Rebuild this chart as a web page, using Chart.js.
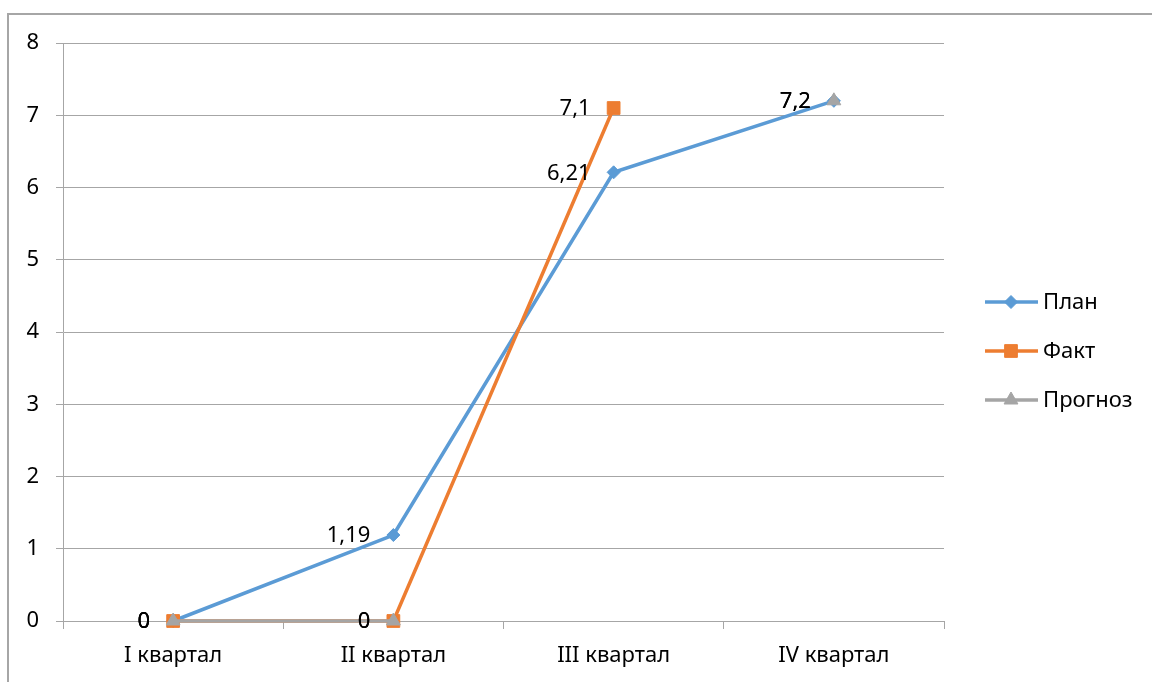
<!DOCTYPE html>
<html>
<head>
<meta charset="utf-8">
<script src="https://cdn.jsdelivr.net/npm/chart.js@4.4.1/dist/chart.umd.min.js"></script>
<style>
html,body{margin:0;padding:0;background:#fff;}
#wrap{position:relative;width:1152px;height:682px;}
</style>
</head>
<body>
<div id="wrap"><canvas id="c" width="1152" height="682"></canvas></div>
<script>
const categories = ['I квартал', 'II квартал', 'III квартал', 'IV квартал'];
const planValues = [0, 1.19, 6.21, 7.2];
const faktValues = [0, 0, 7.1, null];
const prognozValues = [0, 0, null, 7.2];
const seriesNames = ['План', 'Факт', 'Прогноз'];
const yTicks = [0, 1, 2, 3, 4, 5, 6, 7, 8];

const FONT = '"Noto Sans", "DejaVu Sans", sans-serif';
const FSIZE = 22;
const colors = ['#5B9BD5', '#ED7D31', '#A5A5A5'];
const styles = ['rectRot', 'rect', 'triangle'];
const radii = [6.5, 9, 8];

function fmt(v){ return String(v).replace('.', ','); }

const frame = {
  id: 'frame',
  beforeDraw(chart){
    const ctx = chart.ctx;
    ctx.save();
    ctx.fillStyle = '#fff';
    ctx.fillRect(0,0,chart.width,chart.height);
    ctx.strokeStyle = '#A6A6A6';
    ctx.lineWidth = 2;
    ctx.beginPath();
    ctx.moveTo(8, chart.height);
    ctx.lineTo(8, 14);
    ctx.lineTo(chart.width, 14);
    ctx.stroke();
    ctx.restore();
  }
};

const dataLabels = {
  id: 'dataLabels',
  afterDatasetsDraw(chart){
    const ctx = chart.ctx;
    ctx.save();
    ctx.font = FSIZE + 'px ' + FONT;
    ctx.fillStyle = '#000';
    ctx.textAlign = 'right';
    ctx.textBaseline = 'middle';
    chart.data.datasets.forEach((ds, i) => {
      const meta = chart.getDatasetMeta(i);
      meta.data.forEach((pt, j) => {
        const v = ds.data[j];
        if (v === null || v === undefined) return;
        ctx.fillText(fmt(v), pt.x - 23, pt.y + 1);
      });
    });
    ctx.restore();
  }
};

const legendPlugin = {
  id: 'customLegend',
  afterDraw(chart){
    const ctx = chart.ctx;
    ctx.save();
    const ys = [302, 351, 400];
    seriesNames.forEach((name, i) => {
      const y = ys[i];
      ctx.strokeStyle = colors[i];
      ctx.lineWidth = 3.5;
      ctx.beginPath();
      ctx.moveTo(985, y);
      ctx.lineTo(1038, y);
      ctx.stroke();
      ctx.fillStyle = colors[i];
      ctx.strokeStyle = colors[i];
      ctx.lineWidth = 1;
      Chart.helpers.drawPoint(ctx, {pointStyle: styles[i], radius: radii[i], rotation: 0, borderWidth: 1}, 1011, y);
      ctx.fillStyle = '#000';
      ctx.font = FSIZE + 'px ' + FONT;
      ctx.textAlign = 'left';
      ctx.textBaseline = 'middle';
      ctx.fillText(name, 1043, y + 1);
    });
    ctx.restore();
  }
};

const allValues = [planValues, faktValues, prognozValues];
const datasets = seriesNames.map((name, i) => ({
  label: name,
  data: allValues[i],
  borderColor: colors[i],
  backgroundColor: colors[i],
  borderWidth: 3.5,
  pointStyle: styles[i],
  pointRadius: radii[i],
  pointHoverRadius: radii[i],
  pointBorderWidth: 1,
  spanGaps: false,
  tension: 0,
  clip: false,
  order: 2 - i
}));

new Chart(document.getElementById('c'), {
  type: 'line',
  data: { labels: categories, datasets },
  options: {
    responsive: false,
    animation: false,
    events: [],
    layout: { padding: { top: 43, right: 208, bottom: 0, left: 0 } },
    plugins: { legend: { display: false }, tooltip: { enabled: false } },
    scales: {
      x: {
        offset: true,
        grid: { offset: true, drawOnChartArea: false, drawTicks: true, tickLength: 8, color: '#A6A6A6', lineWidth: 1 },
        border: { display: true, color: '#A6A6A6', width: 1 },
        ticks: { color: '#000', font: { family: FONT, size: FSIZE }, padding: 14, maxRotation: 0, autoSkip: false },
        afterFit(scale){ scale.height = 61; }
      },
      y: {
        min: 0, max: 8,
        afterBuildTicks(scale){ scale.ticks = yTicks.map(v => ({value: v})); },
        grid: { color: '#A6A6A6', lineWidth: 1, drawTicks: true, tickLength: 7 },
        border: { display: true, color: '#A6A6A6', width: 1 },
        ticks: { color: '#000', font: { family: FONT, size: FSIZE }, padding: 17 },
        afterFit(scale){ scale.width = 63; }
      }
    }
  },
  plugins: [frame, dataLabels, legendPlugin]
});
</script>
</body>
</html>
